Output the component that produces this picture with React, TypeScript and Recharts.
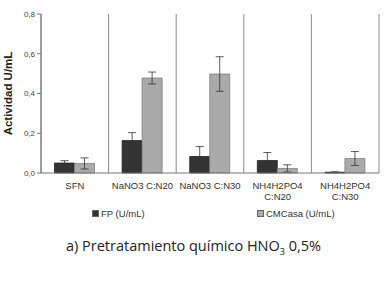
import React from 'react';
import {
  BarChart,
  Bar,
  XAxis,
  YAxis,
  CartesianGrid,
  Legend,
  ErrorBar,
} from 'recharts';

// tratamientos (eje X)
const categories = ['SFN', 'NaNO3 C:N20', 'NaNO3 C:N30', 'NH4H2PO4\nC:N20', 'NH4H2PO4\nC:N30'];
const fp = [0.05, 0.163, 0.083, 0.063, 0.004];
const fpErr = [0.012, 0.04, 0.05, 0.04, 0.002];
const cmc = [0.048, 0.478, 0.498, 0.023, 0.073];
const cmcErr = [0.028, 0.03, 0.087, 0.018, 0.035];
const yTicks = [0, 0.2, 0.4, 0.6, 0.8];
const yMax = 0.8;

const data = categories.map((name, i) => ({
  name,
  fp: fp[i],
  fpErr: fpErr[i],
  cmc: cmc[i],
  cmcErr: cmcErr[i],
}));

const FONT = 'Liberation Sans, Arial, sans-serif';
const PLOT_W = 387 - 41 - 8;

const CategoryTick = (props: any) => {
  const { x, y, payload } = props;
  const lines = String(payload.value).split('\n');
  return (
    <text x={x} y={y + 8} textAnchor="middle" fontSize={9.5} fill="#333" fontFamily={FONT}>
      {lines.map((l, i) => (
        <tspan key={i} x={x} dy={i === 0 ? 0 : 11}>
          {l}
        </tspan>
      ))}
    </text>
  );
};

const renderLegend = (props: any) => {
  const { payload } = props;
  const order = ['fp', 'cmc'];
  const items = order.map((k) => payload.find((p: any) => p.dataKey === k)).filter(Boolean);
  return (
    <div style={{ position: 'relative', height: 16, fontFamily: FONT, fontSize: 9.5, color: '#333' }}>
      {items.map((entry: any, i: number) => (
        <span
          key={i}
          style={{ position: 'absolute', left: i === 0 ? 92 : 257, top: 2, display: 'flex', alignItems: 'center' }}
        >
          <span
            style={{
              display: 'inline-block',
              width: 5,
              height: 5,
              background: entry.color,
              border: '1px solid #666',
              marginRight: 2,
            }}
          />
          {entry.value}
        </span>
      ))}
    </div>
  );
};

// lineas verticales en los limites de cada categoria
const boundaryLines = ({ offset }: any) =>
  categories.concat(['']).map((_, i) => offset.left + (offset.width * i) / categories.length);

export default function App() {
  return (
    <div style={{ position: 'absolute', left: 0, top: 0, width: 387, height: 284, background: '#fff' }}>
      <BarChart
        width={387}
        height={284}
        data={data}
        margin={{ top: 14, right: 8, left: 0, bottom: 62 }}
        barCategoryGap="20%"
        barGap={0}
      >
        <CartesianGrid stroke="#8c8c8c" horizontal={false} verticalCoordinatesGenerator={boundaryLines} />
        {/* eje auxiliar: sus marcas cruzan el area y hacen de lineas horizontales */}
        <YAxis
          yAxisId="grid"
          orientation="right"
          mirror
          width={0}
          domain={[0, yMax]}
          ticks={yTicks}
          tickSize={PLOT_W}
          axisLine={false}
          tickLine={{ stroke: '#8c8c8c' }}
          tickFormatter={() => ''}
        />
        <XAxis
          dataKey="name"
          height={33}
          axisLine={{ stroke: '#777' }}
          tickLine={false}
          tick={<CategoryTick />}
          interval={0}
        />
        <YAxis
          width={41}
          domain={[0, yMax]}
          ticks={yTicks}
          tickFormatter={(v: number) => v.toFixed(1).replace('.', ',')}
          tick={{ fontSize: 8, fill: '#444', fontFamily: FONT }}
          tickSize={4}
          axisLine={{ stroke: '#777' }}
          tickLine={{ stroke: '#777' }}
          label={{
            value: 'Actividad U/mL',
            angle: -90,
            position: 'insideLeft',
            offset: 8,
            style: { fontSize: 11.5, fontWeight: 'bold', fill: '#222', fontFamily: FONT, textAnchor: 'middle' },
          }}
        />
        <Legend verticalAlign="bottom" content={renderLegend} />
        <Bar dataKey="fp" name="FP (U/mL)" fill="#333333" stroke="#222" strokeWidth={0.8} isAnimationActive={false}>
          <ErrorBar dataKey="fpErr" width={4} stroke="#333" strokeWidth={0.8} />
        </Bar>
        <Bar dataKey="cmc" name="CMCasa (U/mL)" fill="#aaaaaa" stroke="#808080" strokeWidth={0.8} isAnimationActive={false}>
          <ErrorBar dataKey="cmcErr" width={4} stroke="#333" strokeWidth={0.8} />
        </Bar>
      </BarChart>
      <div
        style={{
          position: 'absolute',
          left: 0,
          width: 387,
          top: 236,
          textAlign: 'center',
          fontFamily: 'Open Sans, Noto Sans, sans-serif',
          fontSize: 14.5,
          color: '#222',
        }}
      >
        a) Pretratamiento químico HNO<sub style={{ fontSize: 9 }}>3</sub> 0,5%
      </div>
    </div>
  );
}
